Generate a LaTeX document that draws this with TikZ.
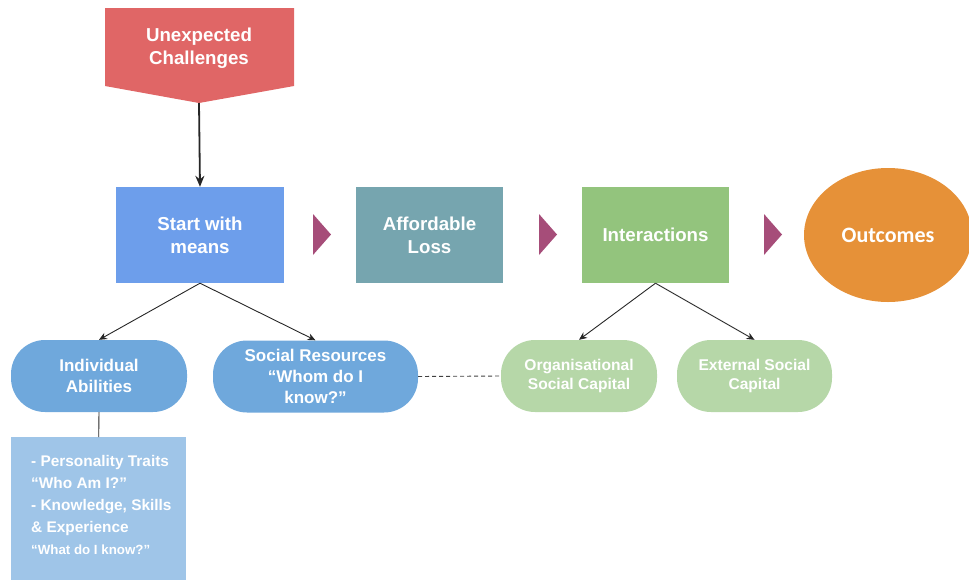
\documentclass[tikz,border=0pt]{standalone}
\usepackage{fontspec}
\setmainfont{Liberation Sans}
\newfontfamily\calibri{Carlito}
\usetikzlibrary{arrows.meta,shapes.geometric}
\definecolor{cRed}{HTML}{E06666}
\definecolor{cStart}{HTML}{6D9EEB}
\definecolor{cTeal}{HTML}{76A5AF}
\definecolor{cGreen}{HTML}{93C47D}
\definecolor{cOrange}{HTML}{E69138}
\definecolor{cPlum}{HTML}{A64D79}
\definecolor{cPill}{HTML}{6FA8DC}
\definecolor{cLightGreen}{HTML}{B6D7A8}
\definecolor{cLightBlue}{HTML}{9FC5E8}
\tikzset{
  mainbox/.style={rectangle, draw=none, text=white, align=center, inner sep=0pt,
    minimum height=96pt, font=\bfseries\fontsize{18.7}{23}\selectfont},
  pillbox/.style={rectangle, rounded corners=34pt, draw=none, text=white, align=center,
    inner sep=0pt, minimum height=72pt, font=\bfseries\fontsize{17}{21}\selectfont},
  smallpill/.style={pillbox, font=\bfseries\fontsize{15.6}{19}\selectfont},
  conn/.style={draw=black!85, line width=0.9pt, -{Stealth[length=8pt,width=7pt]}},
  playtri/.style={fill=cPlum}
}
\begin{document}
\begin{tikzpicture}[x=1pt,y=-1pt]
\useasboundingbox (0,0) rectangle (969,579);
% Unexpected challenges pentagon
\fill[cRed] (105,8) -- (294,8) -- (294,86) -- (199,103) -- (105,86) -- cycle;
\node[text=white, align=center, inner sep=0pt, font=\bfseries\fontsize{18.7}{23}\selectfont] (uc) at (199,48) {Unexpected\\Challenges};
\coordinate (ucapex) at (199,103);

% main row
\node[mainbox, fill=cStart, minimum width=168pt] (start) at (200,235) {Start with\\means};
\node[mainbox, fill=cTeal, minimum width=147pt] (afford) at (429.5,235) {Affordable\\Loss};
\node[mainbox, fill=cGreen, minimum width=147pt] (inter) at (655.5,235) {Interactions};
\node[ellipse, fill=cOrange, minimum width=168pt, minimum height=134pt, inner sep=0pt,
  text=white, font=\calibri\bfseries\fontsize{22}{26}\selectfont] (out) at (888,235) {Outcomes};

% play triangles
\fill[playtri] (313,214) -- (331,234.5) -- (313,255) -- cycle;
\fill[playtri] (539,214) -- (557,234.5) -- (539,255) -- cycle;
\fill[playtri] (764,214) -- (782,234.5) -- (764,255) -- cycle;

\draw[draw=black!85, line width=1.8pt, -{Stealth[length=11pt,width=9pt]}] (ucapex) -- (start.north);

% pills
\node[pillbox, fill=cPill, minimum width=176pt] (ind) at (99,376) {Individual\\Abilities};
\node[pillbox, fill=cPill, minimum width=205pt] (soc) at (315.5,376.5) {Social Resources\\“Whom do I\\know?”};
\node[smallpill, fill=cLightGreen, minimum width=156pt] (org) at (579,376) {Organisational\\Social Capital};
\node[smallpill, fill=cLightGreen, minimum width=155pt] (ext) at (754.5,376) {External Social\\Capital};

\draw[conn] (start.south) -- (ind.north);
\draw[conn] (start.south) -- (soc.north);
\draw[conn] (inter.south) -- (org.north);
\draw[conn] (inter.south) -- (ext.north);
\draw[draw=black!75, line width=0.9pt, dash pattern=on 4pt off 3pt] (soc.east) -- (org.west);

% text box
\node[rectangle, fill=cLightBlue, minimum width=175pt, minimum height=145pt, inner sep=0pt, anchor=north west] (box) at (11,437) {};
\draw[draw=black!85, line width=0.9pt] (ind.south) -- (box.north);
\node[anchor=north west, inner sep=0pt, align=left, text=white,
  font=\bfseries\fontsize{15.4}{22}\selectfont] (boxtext) at (31,455)
  {- Personality Traits\\“Who Am I?”\\- Knowledge, Skills\\\& Experience\\{\fontsize{13.3}{22}\selectfont “What do I know?”}};
\end{tikzpicture}
\end{document}
